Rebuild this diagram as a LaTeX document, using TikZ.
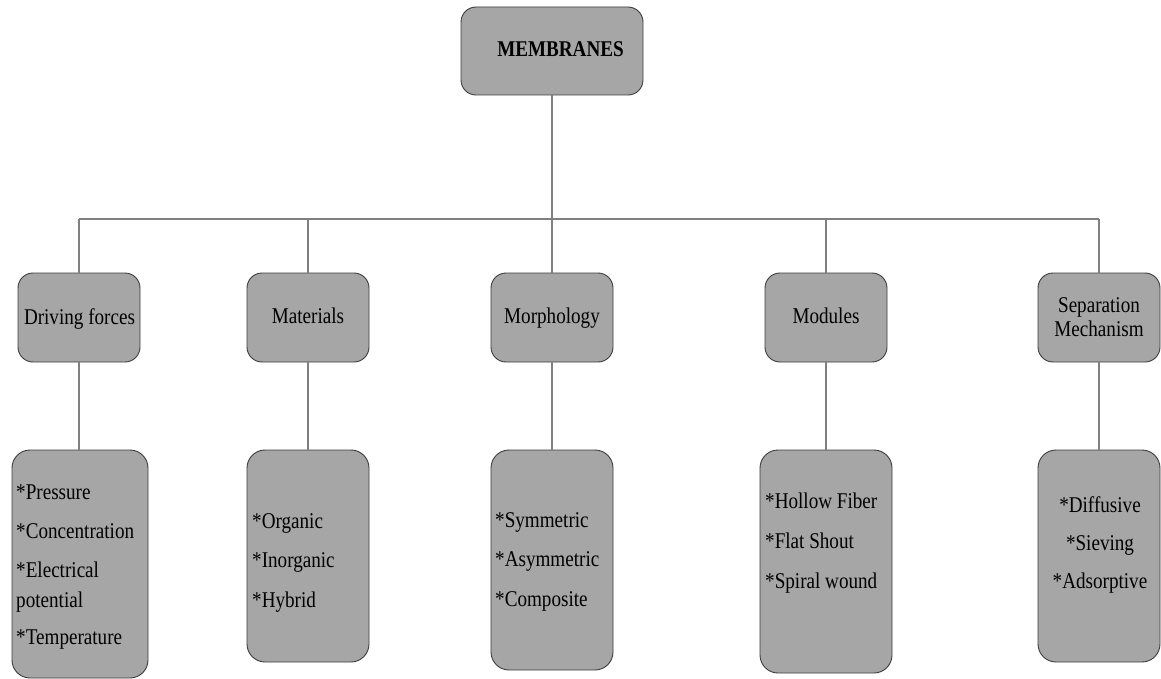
\documentclass[tikz,border=0pt]{standalone}
\usepackage{fontspec}
\setmainfont{Liberation Serif}[FakeStretch=0.85]
\begin{document}
\begin{tikzpicture}[x=1pt,y=-1pt,
  box/.style={draw=boxline,fill=boxfill,line width=0.9pt,rounded corners=15pt,inner sep=0pt},
  leafbox/.style={box,rounded corners=18pt},
  conn/.style={draw=connline,line width=1.1pt},
  lbl/.style={inner sep=0pt,font=\fontsize{22.5}{24}\selectfont,text=black},
  itemL/.style={lbl,anchor=base west},
  itemC/.style={lbl,anchor=base},
]
\definecolor{boxfill}{HTML}{A6A6A6}
\definecolor{boxline}{HTML}{3C3C3C}
\definecolor{connline}{HTML}{808080}
\useasboundingbox (0,0) rectangle (1161,679);

% root
\node[box,minimum width=182pt,minimum height=88pt] (root) at (552,51) {};
\node[lbl,anchor=base,font=\fontsize{22.5}{24}\selectfont\bfseries] (roott) at (560.5,57) {MEMBRANES};

% level 2
\node[box,minimum width=122pt,minimum height=89pt] (d2) at (79,317.5) {};
\node[box,minimum width=122pt,minimum height=89pt] (m2) at (308,317.5) {};
\node[box,minimum width=122pt,minimum height=89pt] (p2) at (552,317.5) {};
\node[box,minimum width=122pt,minimum height=89pt] (o2) at (826,317.5) {};
\node[box,minimum width=122pt,minimum height=89pt] (s2) at (1099,317.5) {};
\node[itemC] (d2t) at (79.5,324) {Driving forces};
\node[itemC] (m2t) at (308,323) {Materials};
\node[itemC] (p2t) at (552,323) {Morphology};
\node[itemC] (o2t) at (826,323) {Modules};
\node[itemC] (s2ta) at (1099,312) {Separation};
\node[itemC] (s2tb) at (1099,336) {Mechanism};

% level 3
\node[leafbox,minimum width=136pt,minimum height=228pt] (d3) at (80,564) {};
\node[leafbox,minimum width=122pt,minimum height=212pt] (m3) at (308,556) {};
\node[leafbox,minimum width=122pt,minimum height=220pt] (p3) at (552,560) {};
\node[leafbox,minimum width=132pt,minimum height=223pt] (o3) at (826,561.5) {};
\node[leafbox,minimum width=122pt,minimum height=212pt] (s3) at (1099,556) {};

\node[itemL] (d3a) at (16,499) {*Pressure};
\node[itemL] (d3b) at (16,538) {*Concentration};
\node[itemL] (d3c) at (16,577) {*Electrical};
\node[itemL] (d3d) at (16,607) {potential};
\node[itemL] (d3e) at (16,644) {*Temperature};

\node[itemL] (m3a) at (252,528) {*Organic};
\node[itemL] (m3b) at (252,567) {*Inorganic};
\node[itemL] (m3c) at (252,607) {*Hybrid};

\node[itemL] (p3a) at (495,527) {*Symmetric};
\node[itemL] (p3b) at (495,566) {*Asymmetric};
\node[itemL] (p3c) at (495,606) {*Composite};

\node[itemL] (o3a) at (765,508) {*Hollow Fiber};
\node[itemL] (o3b) at (765,548) {*Flat Shout};
\node[itemL] (o3c) at (765,588) {*Spiral wound};

\node[itemC] (s3a) at (1100,512) {*Diffusive};
\node[itemC] (s3b) at (1100,550) {*Sieving};
\node[itemC] (s3c) at (1100,588) {*Adsorptive};

% connectors
\coordinate (bus) at (552,219);
\draw[conn] (root.south) -- (root.south |- bus);
\draw[conn] (d2.north |- bus) -- (s2.north |- bus);
\foreach \n in {d,m,p,o,s}{
  \draw[conn] (\n2.north |- bus) -- (\n2.north);
  \draw[conn] (\n2.south) -- (\n2.south |- \n3.north);
}
\end{tikzpicture}
\end{document}
